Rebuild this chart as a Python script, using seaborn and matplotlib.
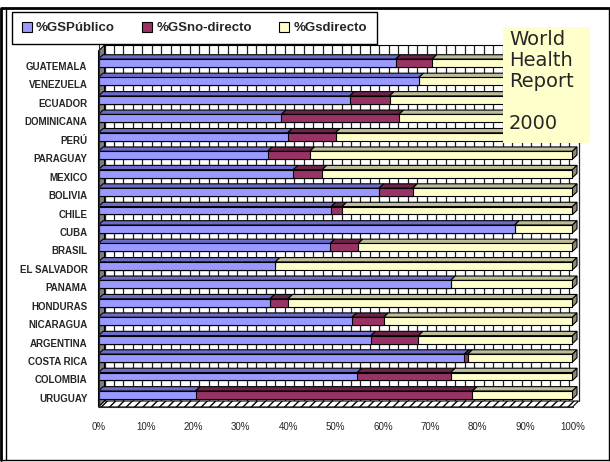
import numpy as np
import pandas as pd
import matplotlib
matplotlib.use("Agg")
import matplotlib.pyplot as plt
import matplotlib.transforms as mtransforms
from matplotlib.patches import Polygon, Rectangle, Patch
from matplotlib.lines import Line2D
import seaborn as sns

# Health spending split by source (% of total), WHR 2000
countries = ["GUATEMALA", "VENEZUELA", "ECUADOR", "DOMINICANA", "PERÚ", "PARAGUAY",
             "MEXICO", "BOLIVIA", "CHILE", "CUBA", "BRASIL", "EL SALVADOR", "PANAMA",
             "HONDURAS", "NICARAGUA", "ARGENTINA", "COSTA RICA", "COLOMBIA", "URUGUAY"]
gs_publico = [62.7, 67.6, 53.0, 38.6, 39.9, 35.7, 41.1, 59.2, 49.1, 87.8, 48.9, 37.3,
              74.3, 36.2, 53.5, 57.5, 77.2, 54.6, 20.5]
gs_no_directo = [7.7, 0.0, 8.4, 24.8, 10.1, 8.9, 6.1, 7.1, 2.3, 0.0, 5.9, 0.0,
                 0.0, 3.8, 6.7, 10.0, 0.7, 19.7, 58.4]
series_names = ["%GSPúblico", "%GSno-directo", "%Gsdirecto"]
x_ticks = [0, 10, 20, 30, 40, 50, 60, 70, 80, 90, 100]
note_text = "World\nHealth\nReport\n\n2000"

pub = np.array(gs_publico)
nod = np.array(gs_no_directo)
gs_directo = 100.0 - pub - nod

front_colors = ["#9999FF", "#993366", "#FFFFCC"]
top_colors = ["#6B6BC8", "#6E2449", "#BDBD9A"]
side_colors = ["#5A5AA8", "#5A1D3C", "#8C8C6A"]

df = pd.DataFrame({"pais": countries, "pub": pub, "nod": nod, "dir": gs_directo})
df["c1"] = df["pub"]
df["c2"] = df["pub"] + df["nod"]
df["c3"] = df["c2"] + df["dir"]

sns.set_style("white")
plt.rcParams["font.family"] = ["Liberation Sans", "DejaVu Sans"]

W, H = 610, 462
fig = plt.figure(figsize=(W / 100, H / 100), dpi=100)

# axes: front plane of the 3D chart
x0_px, x1_px = 98.5, 572.5
y_top_px, y_bot_px = 45, 407
ax = fig.add_axes([x0_px / W, 1 - y_bot_px / H, (x1_px - x0_px) / W, (y_bot_px - y_top_px) / H])

bar_h = 0.43
for col, colr in zip(["c3", "c2", "c1"], front_colors[::-1]):
    sns.barplot(data=df, x=col, y="pais", order=countries, orient="h", color=colr,
                width=bar_h, edgecolor="black", linewidth=0.8, saturation=1,
                ax=ax, zorder=3)

n = len(countries)
row_px = 18.44
top_center_px = 63
ylim_top = -(top_center_px - y_top_px) / row_px
ylim_bot = (y_bot_px - top_center_px) / row_px
ax.set_xlim(0, 100)
ax.set_ylim(ylim_bot, ylim_top)

# depth offset of the 3D view, in data units
dx = 4.5 * 100 / (x1_px - x0_px)
dy = -4.3 / row_px
wall_dx = 6.0 * 100 / (x1_px - x0_px)
wall_dy = -6.0 / row_px

# back wall gridlines every 2 %
for g in np.arange(0, 100.01, 2):
    ax.plot([g + wall_dx, g + wall_dx], [ylim_top, ylim_bot + wall_dy], color="#222222",
            lw=0.9, zorder=1, clip_on=False)
ax.plot([wall_dx, 100 + wall_dx], [ylim_top, ylim_top], color="black", lw=0.8,
        zorder=1, clip_on=False)

# left wall
ax.add_patch(Polygon([(0, ylim_top - wall_dy), (0, ylim_bot), (wall_dx, ylim_bot + wall_dy),
                      (wall_dx, ylim_top)], closed=True, facecolor="#808080",
                     edgecolor="black", lw=0.8, zorder=2, clip_on=False))
# floor
ax.add_patch(Polygon([(0, ylim_bot), (100, ylim_bot), (100 + wall_dx, ylim_bot + wall_dy),
                      (wall_dx, ylim_bot + wall_dy)], closed=True, facecolor="white",
                     edgecolor="black", hatch="////", lw=0.8, zorder=2, clip_on=False))

# top and side faces of each bar segment
for i in range(n):
    yt = i - bar_h / 2
    yb = i + bar_h / 2
    edges = [0, df["c1"][i], df["c2"][i], df["c3"][i]]
    for k in range(3):
        a, b = edges[k], edges[k + 1]
        if b - a <= 0:
            continue
        ax.add_patch(Polygon([(a, yt), (b, yt), (b + dx, yt + dy), (a + dx, yt + dy)],
                             closed=True, facecolor=top_colors[k], edgecolor="black",
                             lw=0.8, zorder=4, clip_on=False))
    kl = 2 if gs_directo[i] > 0 else (1 if nod[i] > 0 else 0)
    ax.add_patch(Polygon([(100, yb), (100, yt), (100 + dx, yt + dy), (100 + dx, yb + dy)],
                         closed=True, facecolor=side_colors[kl], edgecolor="black",
                         lw=0.8, zorder=4, clip_on=False))

# axes styling
for s in ["top", "right"]:
    ax.spines[s].set_visible(False)
ax.spines["left"].set_linewidth(0.8)
ax.spines["bottom"].set_linewidth(0.8)
ax.spines["left"].set_zorder(5)
ax.set_xticks(x_ticks)
ax.set_xticklabels([f"{t}%" for t in x_ticks], fontsize=7)
ax.tick_params(axis="x", direction="out", length=5, width=0.8, pad=6, color="black")
ax.set_yticks(range(n))
ax.set_yticklabels(countries, fontsize=7, fontweight="bold")
ax.tick_params(axis="y", length=0, pad=8)
ax.set_yticks(np.arange(-0.5, n, 1), minor=True)
ax.tick_params(axis="y", which="minor", length=5, width=0.8, direction="out")
shift = mtransforms.ScaledTranslation(0, -3 / 100, fig.dpi_scale_trans)
for lab in ax.get_yticklabels():
    lab.set_transform(lab.get_transform() + shift)
ax.set_xlabel("")
ax.set_ylabel("")
ax.patch.set_alpha(0)

# legend
handles = [Patch(facecolor=c, edgecolor="black", lw=0.8) for c in front_colors]
leg = fig.legend(handles, series_names, loc="upper left",
                 bbox_to_anchor=(12 / W, 1 - 12 / H), ncol=3, frameon=True,
                 fancybox=False, edgecolor="black", framealpha=1,
                 prop={"weight": "bold", "size": 9.5}, handlelength=0.75, handleheight=0.75,
                 handletextpad=0.3, columnspacing=2.1, borderpad=0.75, borderaxespad=0)
leg.get_frame().set_linewidth(1.0)

# note box
fig.patches.append(Rectangle((503 / W, 1 - 143 / H), 87 / W, 116 / H,
                             transform=fig.transFigure, facecolor="#FFFFCC",
                             edgecolor="none", zorder=6))
fig.text(509 / W, 1 - 30 / H, note_text, fontsize=14, family="DejaVu Sans",
         va="top", ha="left", linespacing=1.14, zorder=7)

# outer frame
fig.add_artist(Line2D([2 / W, 609 / W], [1 - 8 / H, 1 - 8 / H], color="black", lw=2,
                      transform=fig.transFigure))
fig.add_artist(Line2D([609 / W, 609 / W], [1 - 8 / H, 1 - 460 / H], color="black", lw=1,
                      transform=fig.transFigure))
fig.add_artist(Line2D([1 / W, 609 / W], [1 - 460 / H, 1 - 460 / H], color="black", lw=1,
                      transform=fig.transFigure))
fig.add_artist(Line2D([1.2 / W, 1.2 / W], [1 - 8 / H, 1 - 460 / H], color="black", lw=2,
                      transform=fig.transFigure))
fig.add_artist(Line2D([5.5 / W, 5.5 / W], [1 - 8 / H, 1 - 460 / H], color="black", lw=1,
                      transform=fig.transFigure))

fig.savefig("out.png", dpi=100)
